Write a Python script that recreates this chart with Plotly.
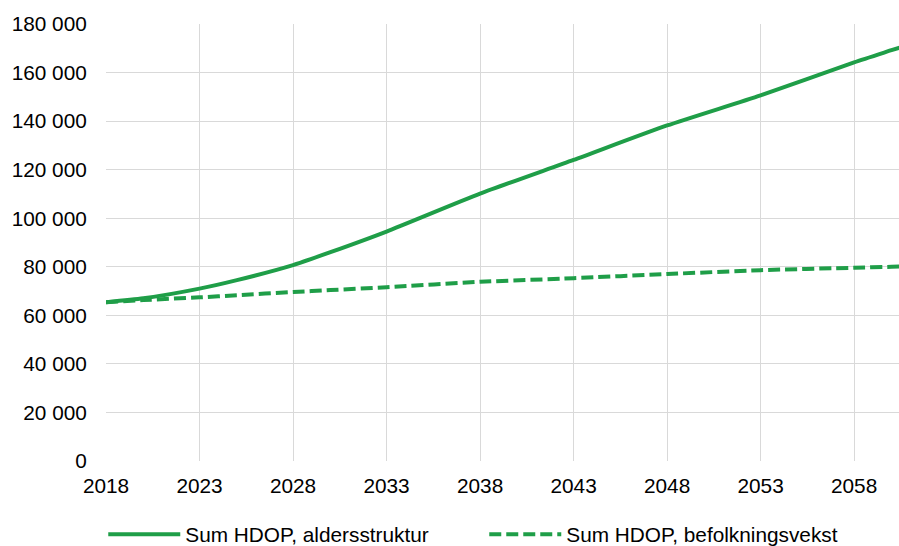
import plotly.graph_objects as go

# År og verdier lest av figuren (linjen fortsetter ut av høyre kant)
years = [2018, 2020, 2023, 2025, 2028, 2030, 2033, 2038, 2043, 2048, 2053, 2058, 2060, 2061]
aldersstruktur = [65400, 67000, 71000, 74500, 80700, 86000, 94500, 110100, 124000, 138200, 150600, 164200, 169200, 171700]
befolkningsvekst = [65400, 66300, 67400, 68300, 69600, 70400, 71600, 73800, 75300, 77000, 78600, 79600, 80000, 80200]

x_ticks = [2018, 2023, 2028, 2033, 2038, 2043, 2048, 2053, 2058]
y_ticks = [0, 20000, 40000, 60000, 80000, 100000, 120000, 140000, 160000, 180000]

green = "#1f9e48"
grid = "#d9d9d9"

fig = go.Figure()
fig.add_trace(go.Scatter(x=years, y=aldersstruktur, mode="lines", name="Sum HDOP, aldersstruktur",
                         line=dict(color=green, width=4, shape="spline", smoothing=0.6)))
fig.add_trace(go.Scatter(x=years, y=befolkningsvekst, mode="lines", name="Sum HDOP, befolkningsvekst",
                         line=dict(color=green, width=4, dash="12px,5px", shape="spline", smoothing=0.6)))

fig.update_layout(
    width=899, height=546,
    margin=dict(l=106, r=0, t=24, b=85, autoexpand=False),
    plot_bgcolor="white", paper_bgcolor="white",
    font=dict(family="Liberation Sans, Arial", size=20.8, color="#000000"),
    separators=", ",
    legend=dict(orientation="h", x=0.477, xanchor="center", y=-0.169, yanchor="middle",
                font=dict(size=20.8), entrywidth=294, itemwidth=72),
)
fig.update_xaxes(range=[2018, 2060.4], tickvals=x_ticks, showgrid=True, gridcolor=grid, gridwidth=1.3,
                 zeroline=False, showline=False, ticks="outside", ticklen=6, tickcolor="rgba(0,0,0,0)",
                 automargin=False)
fig.update_yaxes(range=[0, 180000], tickvals=y_ticks, tickformat=",d", showgrid=True, gridcolor=grid,
                 gridwidth=1.3, zeroline=False, showline=False, ticks="outside", ticklen=14,
                 tickcolor="rgba(0,0,0,0)", automargin=False)

# fjern standardmargen på siden så figuren fyller vinduet
fig.write_html("out.html", config={"displayModeBar": False},
               post_script="document.body.style.margin='0';document.body.style.overflow='hidden';")
